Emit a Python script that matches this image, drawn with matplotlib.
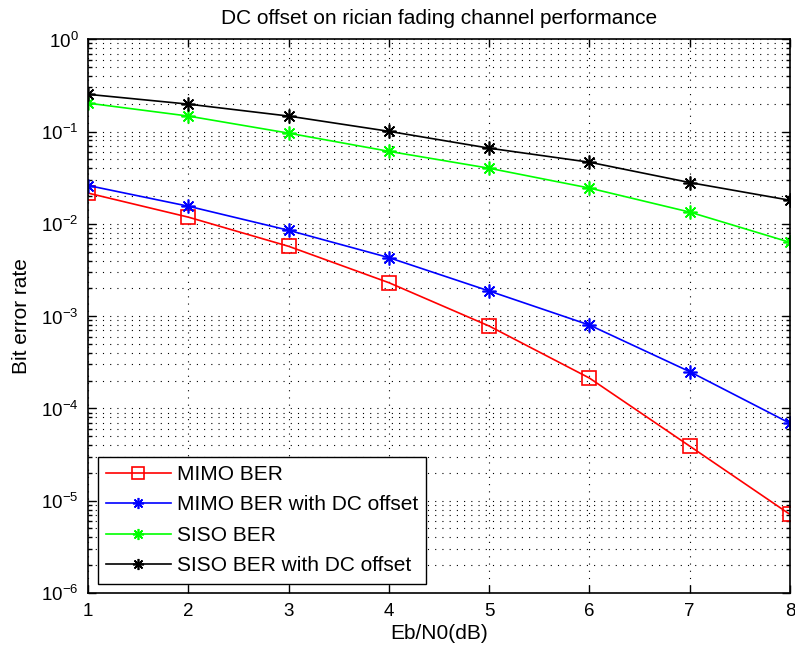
import numpy as np
import matplotlib.pyplot as plt
from matplotlib.ticker import LogLocator, NullFormatter

plt.rcParams['font.family'] = ['Liberation Sans', 'DejaVu Sans']
plt.rcParams['mathtext.fontset'] = 'custom'
plt.rcParams['mathtext.rm'] = 'Liberation Sans'

# valeurs
ebn0 = [1, 2, 3, 4, 5, 6, 7, 8]
mimo_ber = [0.0215, 0.0118, 0.0057, 0.0023, 0.00078, 0.000213, 3.9e-5, 7.1e-6]
mimo_ber_dc = [0.026, 0.0155, 0.0085, 0.0043, 0.00187, 0.00080, 0.00025, 6.9e-5]
siso_ber = [0.203, 0.147, 0.096, 0.061, 0.040, 0.0244, 0.0134, 0.0063]
siso_ber_dc = [0.253, 0.198, 0.147, 0.1005, 0.066, 0.0465, 0.028, 0.018]
yticks = [1e-6, 1e-5, 1e-4, 1e-3, 1e-2, 1e-1, 1]
ylabels = ['$10^{-6}$', '$10^{-5}$', '$10^{-4}$', '$10^{-3}$', '$10^{-2}$', '$10^{-1}$', '$10^{0}$']

star = (8, 2, 0)  # asterisque facon matlab

fig = plt.figure(figsize=(7.95, 6.54), dpi=100)
ax = fig.add_axes([0.111, 0.0933, 0.8827, 0.8467])

ax.semilogy(ebn0, mimo_ber, '-', marker='s', color='red', mfc='none', ms=10, lw=1.2, mew=1.2, label='MIMO BER')
ax.semilogy(ebn0, mimo_ber_dc, '-', marker=star, color='blue', ms=10, lw=1.2, mew=1.2, label='MIMO BER with DC offset')
ax.semilogy(ebn0, siso_ber, '-', marker=star, color='#00ff00', ms=10, lw=1.2, mew=1.2, label='SISO BER')
ax.semilogy(ebn0, siso_ber_dc, '-', marker=star, color='black', ms=10, lw=1.2, mew=1.2, label='SISO BER with DC offset')

ax.set_xlim(1, 8)
ax.set_ylim(1e-6, 1)
ax.set_xticks(ebn0)
ax.set_yticks(yticks, ylabels)
ax.yaxis.set_minor_locator(LogLocator(base=10, subs=np.arange(2, 10), numticks=10))
ax.yaxis.set_minor_formatter(NullFormatter())

grid_style = dict(linestyle=(0, (1, 5.5)), color='black', lw=0.8)
ax.grid(True, which='major', **grid_style)
ax.grid(True, which='minor', axis='y', **grid_style)
ax.tick_params(which='both', direction='in', top=True, right=True, labelsize=13.5, width=1)
ax.tick_params(which='major', length=6, pad=7)
ax.tick_params(which='minor', length=3)
for s in ax.spines.values():
    s.set_linewidth(1.2)

ax.set_title('DC offset on rician fading channel performance', fontsize=15, pad=11)
ax.set_xlabel('Eb/N0(dB)', fontsize=15, labelpad=3)
fig.text(22 / 795, 0.5167, 'Bit error rate', rotation=90, ha='center', va='center', fontsize=15)

leg = ax.legend(loc='lower left', fontsize=15, fancybox=False, edgecolor='black', framealpha=1,
                borderaxespad=0.45, handlelength=3.1, handletextpad=0.3, labelspacing=0.55,
                borderpad=0.4, markerscale=0.8)
leg.get_frame().set_linewidth(1)

fig.savefig('out.png', dpi=100)
